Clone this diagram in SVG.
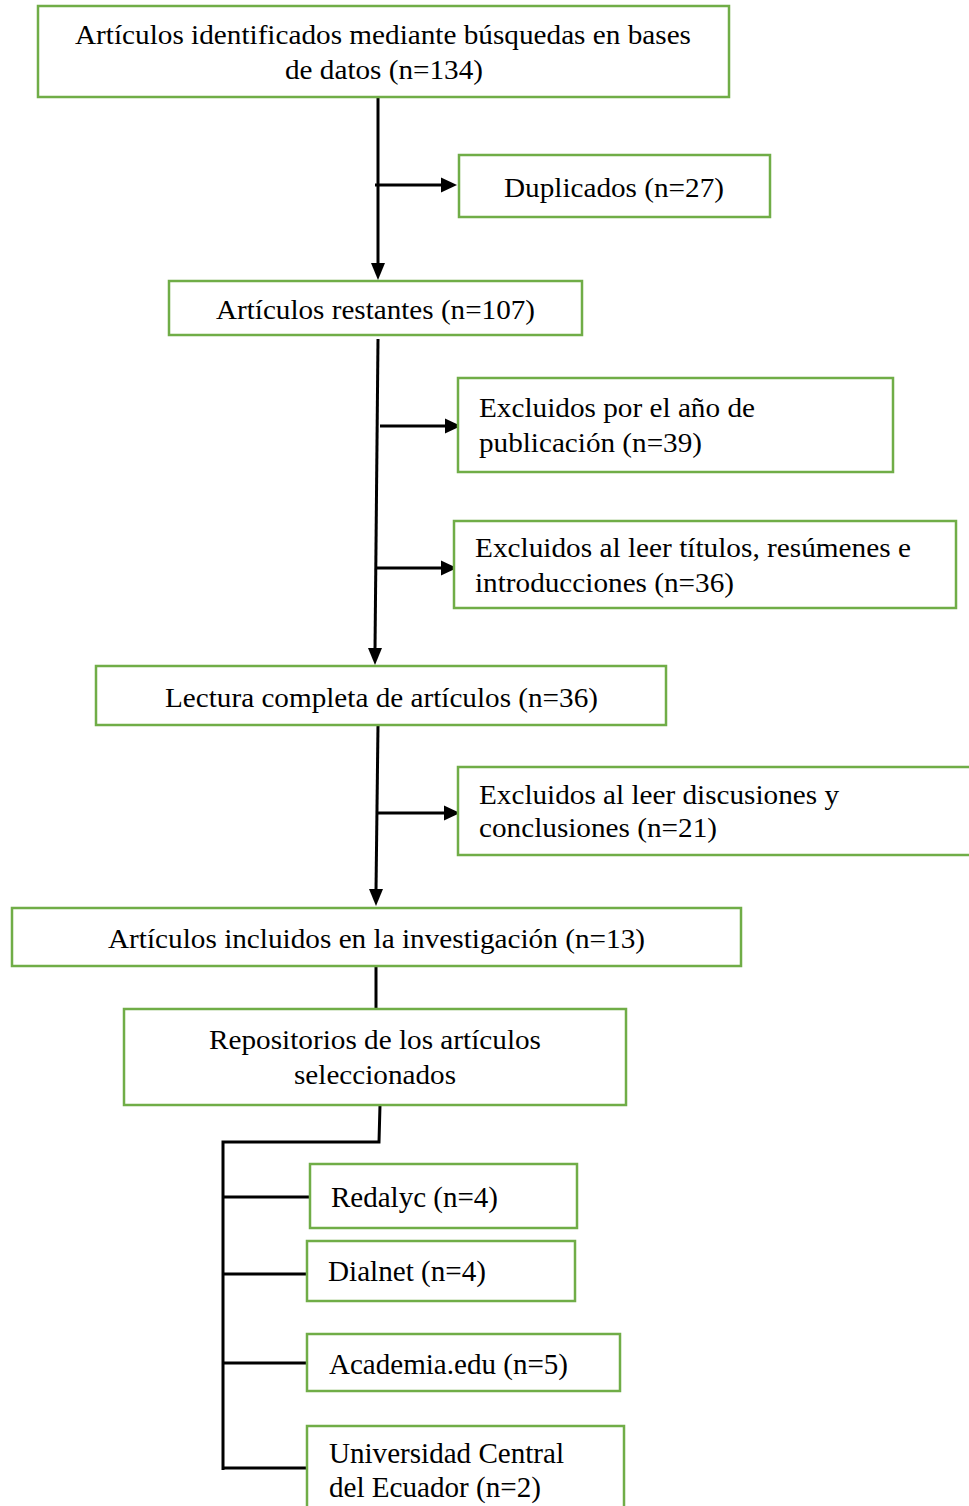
<svg xmlns="http://www.w3.org/2000/svg" width="969" height="1506" viewBox="0 0 969 1506">
<style>
.box{fill:#fff;stroke:#70AD47;stroke-width:2.5}
.t{font-family:"Liberation Serif","Times New Roman",serif;font-size:28px;fill:#000}
.b{font-size:29px}
.ln{fill:none;stroke:#000;stroke-width:3}
.ah{fill:#000;stroke:none}
</style>
<rect width="969" height="1506" fill="#fff"/>
<g id="connectors">
<line class="ln" x1="378" y1="97" x2="378" y2="265"/>
<polygon class="ah" points="371,263 385,263 378,280"/>
<line class="ln" x1="375" y1="185" x2="443" y2="185"/>
<polygon class="ah" points="441,177.5 441,192.5 457,185"/>
<line class="ln" x1="378" y1="339" x2="375" y2="650"/>
<polygon class="ah" points="368,648 382,648 375,665"/>
<line class="ln" x1="380" y1="426" x2="447" y2="426"/>
<polygon class="ah" points="445,418.5 445,433.5 461,426"/>
<line class="ln" x1="377" y1="568" x2="443" y2="568"/>
<polygon class="ah" points="441,560.5 441,575.5 457,568"/>
<line class="ln" x1="378" y1="725" x2="376" y2="891"/>
<polygon class="ah" points="369,889 383,889 376,906"/>
<line class="ln" x1="378" y1="813" x2="446" y2="813"/>
<polygon class="ah" points="444,805.5 444,820.5 460,813"/>
<line class="ln" x1="376" y1="966" x2="376" y2="1009"/>
<polyline class="ln" points="380,1105 379,1142 223,1142 223,1470"/>
<line class="ln" x1="223" y1="1197" x2="310" y2="1197"/>
<line class="ln" x1="223" y1="1274" x2="307" y2="1274"/>
<line class="ln" x1="223" y1="1363" x2="307" y2="1363"/>
<line class="ln" x1="223" y1="1468" x2="307" y2="1468"/>
</g>
<g id="n1">
<rect class="box" x="38" y="6" width="691" height="91"/>
<text class="t" x="75" y="44" textLength="616" lengthAdjust="spacingAndGlyphs">Artículos identificados mediante búsquedas en bases</text>
<text class="t" x="285" y="79" textLength="198" lengthAdjust="spacingAndGlyphs">de datos (n=134)</text>
</g>
<g id="n2">
<rect class="box" x="459" y="155" width="311" height="62"/>
<text class="t" x="504" y="197" textLength="220" lengthAdjust="spacingAndGlyphs">Duplicados (n=27)</text>
</g>
<g id="n3">
<rect class="box" x="169" y="281" width="413" height="54"/>
<text class="t" x="216" y="319" textLength="319" lengthAdjust="spacingAndGlyphs">Artículos restantes (n=107)</text>
</g>
<g id="n4">
<rect class="box" x="458" y="378" width="435" height="94"/>
<text class="t" x="479" y="417" textLength="276" lengthAdjust="spacingAndGlyphs">Excluidos por el año de</text>
<text class="t" x="479" y="452" textLength="223" lengthAdjust="spacingAndGlyphs">publicación (n=39)</text>
</g>
<g id="n5">
<rect class="box" x="454" y="521" width="502" height="87"/>
<text class="t" x="475" y="557" textLength="436" lengthAdjust="spacingAndGlyphs">Excluidos al leer títulos, resúmenes e</text>
<text class="t" x="475" y="592" textLength="259" lengthAdjust="spacingAndGlyphs">introducciones (n=36)</text>
</g>
<g id="n6">
<rect class="box" x="96" y="666" width="570" height="59"/>
<text class="t" x="165" y="707" textLength="433" lengthAdjust="spacingAndGlyphs">Lectura completa de artículos (n=36)</text>
</g>
<g id="n7">
<rect class="box" x="458" y="767" width="530" height="88"/>
<text class="t" x="479" y="804" textLength="360" lengthAdjust="spacingAndGlyphs">Excluidos al leer discusiones y</text>
<text class="t" x="479" y="837" textLength="238" lengthAdjust="spacingAndGlyphs">conclusiones (n=21)</text>
</g>
<g id="n8">
<rect class="box" x="12" y="908" width="729" height="58"/>
<text class="t" x="108" y="948" textLength="537" lengthAdjust="spacingAndGlyphs">Artículos incluidos en la investigación (n=13)</text>
</g>
<g id="n9">
<rect class="box" x="124" y="1009" width="502" height="96"/>
<text class="t" x="209" y="1049" textLength="332" lengthAdjust="spacingAndGlyphs">Repositorios de los artículos</text>
<text class="t" x="294" y="1084" textLength="162" lengthAdjust="spacingAndGlyphs">seleccionados</text>
</g>
<g id="n10">
<rect class="box" x="310" y="1164" width="267" height="64"/>
<text class="t b" x="331" y="1207" textLength="167" lengthAdjust="spacingAndGlyphs">Redalyc (n=4)</text>
</g>
<g id="n11">
<rect class="box" x="307" y="1241" width="268" height="60"/>
<text class="t b" x="328" y="1281" textLength="158" lengthAdjust="spacingAndGlyphs">Dialnet (n=4)</text>
</g>
<g id="n12">
<rect class="box" x="307" y="1334" width="313" height="57"/>
<text class="t b" x="329" y="1374" textLength="239" lengthAdjust="spacingAndGlyphs">Academia.edu (n=5)</text>
</g>
<g id="n13">
<rect class="box" x="307" y="1426" width="317" height="90"/>
<text class="t b" x="329" y="1463" textLength="235" lengthAdjust="spacingAndGlyphs">Universidad Central</text>
<text class="t b" x="329" y="1497" textLength="212" lengthAdjust="spacingAndGlyphs">del Ecuador (n=2)</text>
</g>
</svg>
